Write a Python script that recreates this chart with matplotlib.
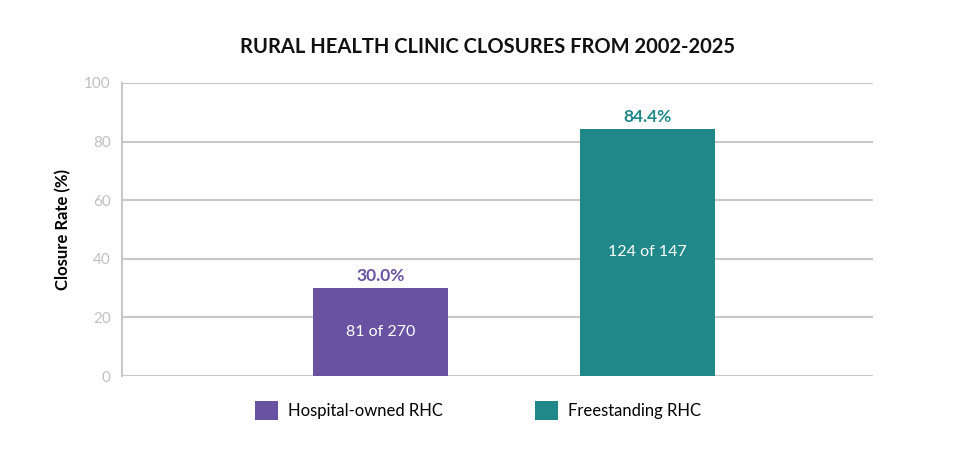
import matplotlib
matplotlib.use('Agg')
import matplotlib.pyplot as plt
from matplotlib.patches import Patch

plt.rcParams['font.family'] = ['Lato', 'DejaVu Sans']

# data
categories = ['Hospital-owned RHC', 'Freestanding RHC']
rates = [30.0, 84.4]
closed = [81, 124]
totals = [270, 147]
colors = ['#6a52a2', '#21888a']
yticks = [0, 20, 40, 60, 80, 100]

fig = plt.figure(figsize=(9.75, 4.58), dpi=100)
ax = fig.add_axes([0.125, 0.179, 0.77, 0.64])

xpos = list(range(len(categories)))
bars = ax.bar(xpos, rates, width=0.507, color=colors, zorder=3)

for x, r, c, n, t in zip(xpos, rates, colors, closed, totals):
    ax.text(x, r + 1.3, f'{r:.1f}%', ha='center', va='bottom',
            fontsize=12.5, fontweight='bold', color=c)
    ax.text(x, r / 2, f'{n} of {t}', ha='center', va='center',
            fontsize=11.5, color='white')

ax.set_xlim(-0.972, 1.846)
ax.set_ylim(0, 100)
ax.set_yticks(yticks)
ax.set_xticks([])
ax.yaxis.grid(True, color='#c8c8c8', linewidth=1.5, zorder=0)
ax.tick_params(axis='y', length=0, pad=8, labelsize=11, labelcolor='#c0c0c0')
for s in ['top', 'right', 'bottom']:
    ax.spines[s].set_visible(False)
ax.spines['left'].set_color('#c8c8c8')
ax.spines['left'].set_linewidth(1.5)
ax.set_ylabel('Closure Rate (%)', fontsize=12, fontweight='bold', labelpad=9)

fig.text(0.5, 0.897, 'RURAL HEALTH CLINIC CLOSURES FROM 2002-2025',
         ha='center', va='center', fontsize=14.5, fontweight='bold', color='#111111')

handles = [Patch(facecolor=c, edgecolor='none') for c in colors]
fig.legend(handles, categories, loc='center', bbox_to_anchor=(0.49, 0.103),
           ncol=2, frameon=False, fontsize=12, handlelength=1.4, handleheight=1.4,
           columnspacing=5.5, handletextpad=0.6)

fig.savefig('out.png', dpi=100)
